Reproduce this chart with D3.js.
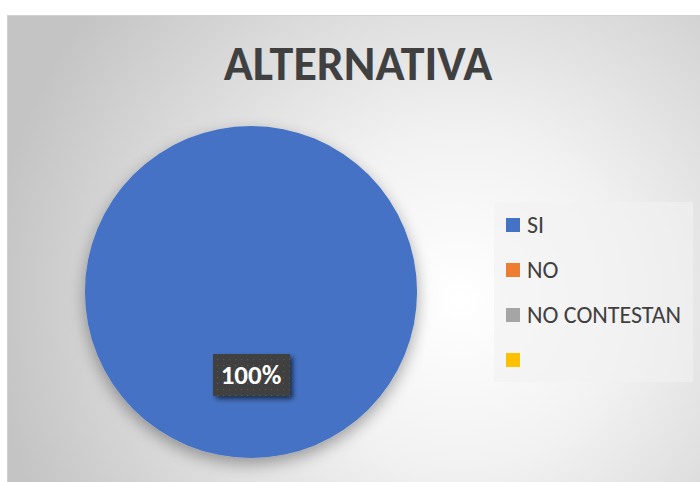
<!DOCTYPE html>
<html>
<head>
<meta charset="utf-8">
<script src="https://cdn.jsdelivr.net/npm/d3@7"></script>
<style>
  html, body { margin: 0; padding: 0; background: #fff; }
  svg { display: block; }
</style>
</head>
<body>
<div id="chart"></div>
<script>
// Chart data
const categories = ["SI", "NO", "NO CONTESTAN", ""];
const values = [100, 0, 0, 0];
const colors = ["#4472c4", "#ed7d31", "#a5a5a5", "#ffc000"];
const title = "ALTERNATIVA";

const width = 700;
const height = 482;
const font = "Carlito, Calibri, 'Liberation Sans Narrow', 'Open Sans', sans-serif";

const svg = d3.select("#chart")
  .append("svg")
  .attr("width", width)
  .attr("height", height);

const defs = svg.append("defs");

// background gradient: white glow right of centre, grey edges
const bg = defs.append("radialGradient")
  .attr("id", "bg")
  .attr("gradientUnits", "userSpaceOnUse")
  .attr("cx", 460).attr("cy", 300).attr("r", 470);
bg.append("stop").attr("offset", "0%").attr("stop-color", "#ffffff");
bg.append("stop").attr("offset", "35%").attr("stop-color", "#f2f2f2");
bg.append("stop").attr("offset", "100%").attr("stop-color", "#c4c4c4");

const pieShadow = defs.append("filter").attr("id", "pieShadow")
  .attr("x", "-20%").attr("y", "-20%").attr("width", "140%").attr("height", "140%");
pieShadow.append("feGaussianBlur").attr("in", "SourceAlpha").attr("stdDeviation", 8);
pieShadow.append("feOffset").attr("dx", 0).attr("dy", 6).attr("result", "b");
pieShadow.append("feComponentTransfer").append("feFuncA").attr("type", "linear").attr("slope", 0.35);
const pm = pieShadow.append("feMerge");
pm.append("feMergeNode");
pm.append("feMergeNode").attr("in", "SourceGraphic");

const boxShadow = defs.append("filter").attr("id", "boxShadow")
  .attr("x", "-30%").attr("y", "-30%").attr("width", "160%").attr("height", "160%");
boxShadow.append("feGaussianBlur").attr("in", "SourceAlpha").attr("stdDeviation", 2.5);
boxShadow.append("feOffset").attr("dx", 3).attr("dy", 3);
boxShadow.append("feComponentTransfer").append("feFuncA").attr("type", "linear").attr("slope", 0.6);
const bm = boxShadow.append("feMerge");
bm.append("feMergeNode");
bm.append("feMergeNode").attr("in", "SourceGraphic");

// dotted label pattern
const pat = defs.append("pattern")
  .attr("id", "dots")
  .attr("patternUnits", "userSpaceOnUse")
  .attr("width", 6).attr("height", 6);
pat.append("rect").attr("width", 6).attr("height", 6).attr("fill", "#404040");
pat.append("rect").attr("x", 2).attr("y", 2).attr("width", 1.2).attr("height", 1.2).attr("fill", "#5a5a5a");

// chart area
svg.append("rect")
  .attr("x", 7.5).attr("y", 15.5)
  .attr("width", width).attr("height", height)
  .attr("fill", "url(#bg)")
  .attr("stroke", "#d0d0d0");

svg.append("text")
  .attr("x", 358)
  .attr("y", 80)
  .attr("text-anchor", "middle")
  .attr("font-family", font)
  .attr("font-weight", "bold")
  .attr("font-size", 48)
  .attr("fill", "#404040")
  .text(title);

// pie
const cx = 251, cy = 292, r = 166;
const data = categories.map((c, i) => ({ name: c, value: values[i], color: colors[i] }));

const pie = d3.pie().value(d => d.value).sort(null);
const arc = d3.arc().innerRadius(0).outerRadius(r);
const labelArc = d3.arc().innerRadius(0).outerRadius(r);

const g = svg.append("g").attr("transform", `translate(${cx},${cy})`);

g.append("g")
  .attr("filter", "url(#pieShadow)")
  .selectAll("path")
  .data(pie(data).filter(d => d.value > 0))
  .enter()
  .append("path")
  .attr("d", arc)
  .attr("fill", d => d.data.color);

const total = d3.sum(values);
const labels = g.selectAll(".lbl")
  .data(pie(data).filter(d => d.value > 0))
  .enter()
  .append("g")
  .attr("class", "lbl")
  .attr("transform", d => `translate(${labelArc.centroid(d)})`);

labels.append("rect")
  .attr("x", -38).attr("y", -21)
  .attr("width", 77).attr("height", 42)
  .attr("fill", "url(#dots)")
  .attr("filter", "url(#boxShadow)");

labels.append("text")
  .attr("text-anchor", "middle")
  .attr("dy", "0.35em")
  .attr("font-family", font)
  .attr("font-weight", "bold")
  .attr("font-size", 27)
  .attr("fill", "#ffffff")
  .text(d => `${Math.round(d.value / total * 100)}%`);

// legend
const legend = svg.append("g").attr("transform", "translate(494,202)");
legend.append("rect")
  .attr("width", 199).attr("height", 180)
  .attr("fill", "#f2f2f2")
  .attr("fill-opacity", 0.6);

const item = legend.selectAll(".item")
  .data(data)
  .enter()
  .append("g")
  .attr("class", "item")
  .attr("transform", (d, i) => `translate(12,${23 + i * 45})`);

item.append("rect")
  .attr("x", 0).attr("y", -7)
  .attr("width", 14).attr("height", 14)
  .attr("fill", d => d.color);

item.append("text")
  .attr("x", 21)
  .attr("dy", "0.35em")
  .attr("font-family", font)
  .attr("font-size", 24)
  .attr("fill", "#404040")
  .text(d => d.name);
</script>
</body>
</html>
